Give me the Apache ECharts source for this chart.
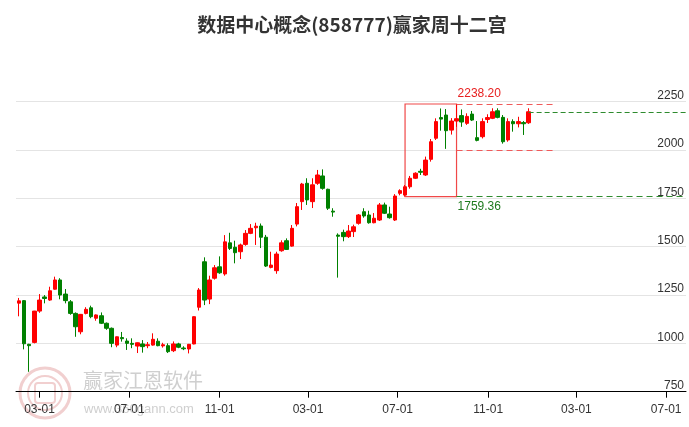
<!DOCTYPE html>
<html><head><meta charset="utf-8">
<script src="https://cdn.jsdelivr.net/npm/echarts@6/dist/echarts.min.js"></script>
<style>html,body{margin:0;padding:0;background:#fff}#c{width:689px;height:427px}</style>
</head><body><div id="c"></div>
<script>
const titleText = '数据中心概念(858777)赢家周十二宫';
const dates = [
'2024-02-02','2024-02-09','2024-02-16','2024-02-23','2024-03-01','2024-03-08','2024-03-15','2024-03-22','2024-03-29','2024-04-05',
'2024-04-12','2024-04-19','2024-04-26','2024-05-03','2024-05-10','2024-05-17','2024-05-24','2024-05-31','2024-06-07','2024-06-14',
'2024-06-21','2024-06-28','2024-07-05','2024-07-12','2024-07-19','2024-07-26','2024-08-02','2024-08-09','2024-08-16','2024-08-23',
'2024-08-30','2024-09-06','2024-09-13','2024-09-20','2024-09-27','2024-10-04','2024-10-11','2024-10-18','2024-10-25','2024-11-01',
'2024-11-08','2024-11-15','2024-11-22','2024-11-29','2024-12-06','2024-12-13','2024-12-20','2024-12-27','2025-01-03','2025-01-10',
'2025-01-17','2025-01-24','2025-01-31','2025-02-07','2025-02-14','2025-02-21','2025-02-28','2025-03-07','2025-03-14','2025-03-21',
'2025-03-28','2025-04-04','2025-04-11','2025-04-18','2025-04-25','2025-05-02','2025-05-09','2025-05-16','2025-05-23','2025-05-30',
'2025-06-06','2025-06-13','2025-06-20','2025-06-27','2025-07-04','2025-07-11','2025-07-18','2025-07-25','2025-08-01','2025-08-08',
'2025-08-15','2025-08-22','2025-08-29','2025-09-05','2025-09-12','2025-09-19','2025-09-26','2025-10-03','2025-10-10','2025-10-17',
'2025-10-24','2025-10-31','2025-11-07','2025-11-14','2025-11-21','2025-11-28','2025-12-05','2025-12-12','2025-12-19','2025-12-26'
];
const opens = [
1208,1221,995,1005,1167,1240,1224,1280,1328,1255,
1215,1155,1060,1155,1184,1130,1143,1104,1078,991,
1030,1012,1000,986,997,988,991,1011,987,988,
962,997,976,971,997,1187,1422,1229,1337,1396,
1359,1520,1497,1474,1512,1569,1598,1607,1549,1393,
1376,1479,1531,1503,1617,1733,1828,1733,1828,1866,
1797,1684,1560,1574,1552,1578,1621,1681,1664,1624,
1638,1716,1669,1638,1776,1767,1810,1854,1890,1871,
1952,2061,2168,2181,2103,2150,2178,2138,2186,2064,
2069,2158,2164,2203,2169,2052,2147,2136,2142,2141
];
const closes = [
1220,998,988,1167,1224,1232,1272,1328,1250,1221,
1155,1086,1150,1176,1138,1147,1104,1078,1000,1034,
1024,1000,995,1003,983,993,1021,988,993,957,
997,980,972,995,1138,1276,1224,1328,1391,1365,
1525,1491,1469,1509,1569,1595,1606,1549,1400,1405,
1462,1520,1486,1595,1707,1824,1742,1820,1871,1802,
1699,1679,1554,1552,1581,1603,1664,1659,1624,1647,
1716,1673,1650,1762,1790,1810,1854,1880,1885,1948,
2043,2147,2160,2100,2150,2162,2145,2174,2155,2050,
2147,2168,2198,2169,2043,2147,2136,2147,2136,2198
];
const lows = [
1140,969,853,1000,1158,1207,1220,1278,1228,1207,
1148,1034,1047,1150,1130,1117,1100,1070,980,980,
1009,966,975,950,952,975,988,985,978,950,
955,975,965,948,995,1170,1198,1203,1330,1360,
1350,1483,1414,1436,1505,1565,1509,1493,1395,1388,
1360,1474,1483,1500,1605,1690,1716,1700,1820,1795,
1690,1655,1340,1528,1545,1550,1614,1650,1619,1621,
1633,1669,1645,1633,1766,1759.36,1800,1850,1871,1866,
1940,2052,2100,2006,2080,2120,2120,2130,2150,2045,
2060,2140,2160,2164,2033,2043,2095,2117,2078,2135
];
const highs = [
1235,1224,998,1168,1255,1250,1293,1345,1337,1281,
1224,1160,1152,1187,1195,1150,1160,1108,1082,1036,
1059,1026,1026,1005,1017,1007,1052,1026,1003,1000,
1010,1003,985,997,1140,1286,1445,1350,1405,1450,
1560,1572,1531,1516,1586,1617,1624,1620,1561,1474,
1474,1533,1543,1612,1726,1830,1854,1854,1897,1900,
1800,1699,1569,1588,1612,1614,1669,1699,1686,1674,
1726,1728,1707,1772,1797,1819,1866,1885,1903,1966,
2057,2164,2215,2212,2165,2238.2,2210,2190,2202,2150,
2164,2185,2216,2216,2181,2164,2159,2172,2150,2216
];
const yMin = 750, yMax = 2250, yStep = 250;
const xStart = '2024-01-29', xEnd = '2026-07-28';
const xLabelDates = ['2024-03-01','2024-07-01','2024-11-01','2025-03-01','2025-07-01','2025-11-01','2026-03-01','2026-07-01'];
const boxStart = '2025-07-11', boxEnd = '2025-09-19', dashEnd = '2026-01-28';
const boxHigh = 2238.20, boxLow = 1759.36;

function ts(s){const p=s.split('-');return new Date(+p[0],+p[1]-1,+p[2]).getTime();}
function fmt(v){const d=new Date(v);return String(d.getMonth()+1).padStart(2,'0')+'-'+String(d.getDate()).padStart(2,'0');}

const ohlc = dates.map((d,i)=>[ts(d), opens[i], closes[i], lows[i], highs[i]]);
const lastTs = ts(dates[dates.length-1]);
const lastClose = closes[closes.length-1];
const mid = (boxHigh + boxLow) / 2;
const xLabelTs = xLabelDates.map(ts);
const RED = '#ff0000', GREEN = '#008000';
const numFont = '"Liberation Sans", Arial, sans-serif';

const chart = echarts.init(document.getElementById('c'));
chart.setOption({
  animation: false,
  backgroundColor: '#fff',
  title: {
    text: titleText, left: 347, top: 10, textAlign: 'center',
    textStyle: {fontSize: 19, fontWeight: 'bold', color: '#333', fontFamily: '"Noto Sans CJK SC", sans-serif'}
  },
  grid: {left: 16, right: 3, top: 101.7, bottom: 35.3, containLabel: false, outerBoundsMode: 'none'},
  xAxis: {
    type: 'value', min: ts(xStart), max: ts(xEnd), scale: true,
    axisLine: {show: true, onZero: false, lineStyle: {color: '#000', width: 1}},
    axisTick: {show: true, customValues: xLabelTs, length: 6, lineStyle: {color: '#000'}},
    axisLabel: {customValues: xLabelTs, formatter: fmt, color: '#333', fontSize: 12, margin: 12, fontFamily: numFont},
    splitLine: {show: false}
  },
  yAxis: {
    type: 'value', position: 'right', min: yMin, max: yMax, interval: yStep, scale: true,
    axisLine: {show: false}, axisTick: {show: false},
    axisLabel: {inside: true, verticalAlign: 'bottom', margin: 2, color: '#333', fontSize: 12, fontFamily: numFont, formatter: v => String(v)},
    splitLine: {show: true, lineStyle: {color: '#e4e4e4', width: 1}}
  },
  graphic: [
    {type: 'circle', shape: {cx: 45, cy: 393, r: 25}, style: {fill: 'none', stroke: '#f1cfcf', lineWidth: 3}, z: 0, silent: true},
    {type: 'circle', shape: {cx: 45, cy: 393, r: 17}, style: {fill: 'none', stroke: '#f1cfcf', lineWidth: 2}, z: 0, silent: true},
    {type: 'rect', shape: {x: 35, y: 383, width: 20, height: 20, r: 3}, style: {fill: 'none', stroke: '#f1cfcf', lineWidth: 2}, z: 0, silent: true},
    {type: 'text', left: 83, top: 370, style: {text: '赢家江恩软件', fontSize: 20, fill: '#cfcfcf', fontFamily: '"Noto Sans CJK SC", sans-serif'}, z: 0, silent: true},
    {type: 'text', left: 84, top: 403, style: {text: 'www.360gann.com', fontSize: 13, fill: '#cfcfcf', fontFamily: numFont}, z: 0, silent: true}
  ],
  series: [{
    type: 'candlestick',
    data: ohlc,
    barWidth: 4,
    itemStyle: {color: RED, color0: GREEN, borderColor: RED, borderColor0: GREEN, borderWidth: 1},
    markArea: {
      silent: true,
      itemStyle: {color: 'rgba(0,0,0,0)', borderColor: '#f04848', borderWidth: 1.2},
      data: [[{coord: [ts(boxStart), boxHigh]}, {coord: [ts(boxEnd), boxLow]}]]
    },
    markLine: {
      silent: true, symbol: ['none','none'], label: {show: false},
      data: [
        [{coord: [ts(boxEnd), boxHigh], lineStyle: {color: '#f05a5a', type: [6,4], width: 1.2}}, {coord: [ts(dashEnd), boxHigh]}],
        [{coord: [ts(boxEnd), mid], lineStyle: {color: '#f05a5a', type: [6,4], width: 1.2}}, {coord: [ts(dashEnd), mid]}],
        [{coord: [ts(boxEnd), boxLow], lineStyle: {color: '#2e8b2e', type: [6,4], width: 1.2}}, {coord: [ts(xEnd), boxLow]}],
        [{coord: [lastTs, lastClose], lineStyle: {color: '#2e8b2e', type: [5,3], width: 1}}, {coord: [ts(xEnd), lastClose]}]
      ]
    },
    markPoint: {
      silent: true, symbol: 'circle', symbolSize: 0,
      data: [
        {coord: [ts(boxEnd), boxHigh], label: {show: true, formatter: boxHigh.toFixed(2), position: [0,0], align: 'left', verticalAlign: 'bottom', offset: [1,-4], color: '#e82020', fontSize: 12, fontFamily: numFont}},
        {coord: [ts(boxEnd), boxLow], label: {show: true, formatter: boxLow.toFixed(2), position: [0,0], align: 'left', verticalAlign: 'top', offset: [1,4], color: '#1e7a1e', fontSize: 12, fontFamily: numFont}}
      ]
    }
  }]
});
</script>
</body></html>
